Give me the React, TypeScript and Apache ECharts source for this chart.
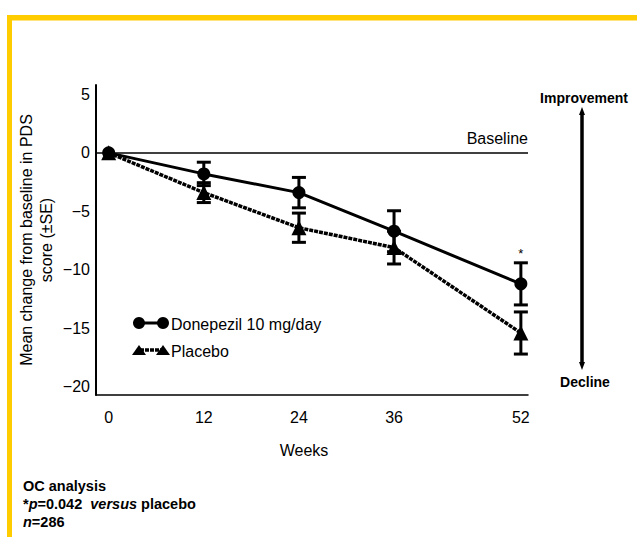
import React, { useEffect, useRef } from "react";
import * as echarts from "echarts";

const weeks = [0, 12, 24, 36, 52];
const donepezilMean = [0, -1.8, -3.4, -6.7, -11.2];
const donepezilSE = [0, 1.0, 1.3, 1.75, 1.8];
const placeboMean = [0, -3.4, -6.4, -8.1, -15.4];
const placeboSE = [0, 0.85, 1.25, 1.4, 1.8];
const donepezilSig = ["", "", "", "", "*"];
const xTicks = [0, 12, 24, 36, 52];
const yTicks = [-20, -15, -10, -5, 0, 5];

const FONT = "'Liberation Sans', Arial, Helvetica, sans-serif";

function errorBarSeries(name: string, mean: number[], se: number[], sig?: string[]) {
  return {
    type: "custom",
    name,
    z: 5,
    silent: true,
    data: weeks.map((w, i) => [w, mean[i], se[i]]),
    renderItem: (params: any, api: any) => {
      const x = api.value(0);
      const m = api.value(1);
      const s = api.value(2);
      if (!s) return { type: "group", children: [] };
      const top = api.coord([x, m + s]);
      const bot = api.coord([x, m - s]);
      const hw = 7;
      const st = { stroke: "#000", lineWidth: 3 };
      const children: any[] = [
        { type: "line", shape: { x1: top[0], y1: top[1], x2: bot[0], y2: bot[1] }, style: st },
        { type: "line", shape: { x1: top[0] - hw, y1: top[1], x2: top[0] + hw, y2: top[1] }, style: st },
        { type: "line", shape: { x1: bot[0] - hw, y1: bot[1], x2: bot[0] + hw, y2: bot[1] }, style: st },
      ];
      const mark = sig ? sig[params.dataIndex] : "";
      if (mark) {
        children.push({
          type: "text",
          x: top[0],
          y: top[1] - 9,
          style: { text: mark, fontSize: 13, fontFamily: FONT, fill: "#000", align: "center", verticalAlign: "middle" },
        });
      }
      return { type: "group", children };
    },
  };
}

export default function App() {
  const ref = useRef<HTMLDivElement>(null);
  useEffect(() => {
    if (!ref.current) return;
    const chart = echarts.init(ref.current, undefined, { renderer: "svg" });
    const italicRich = { i: { fontStyle: "italic", fontWeight: "bold", fontSize: 14.5, fontFamily: FONT, fill: "#000" } };
    const option: any = {
      animation: false,
      backgroundColor: "#fff",
      grid: { left: 96, right: 109, top: 85, bottom: 142 },
      xAxis: {
        type: "value",
        min: -1.6,
        max: 52.9,
        splitLine: { show: false },
        axisLine: { show: true, onZero: false, lineStyle: { color: "#000", width: 1.5 } },
        axisTick: { show: false },
        axisLabel: {
          customValues: xTicks,
          margin: 14,
          fontSize: 16,
          fontFamily: FONT,
          color: "#000",
        },
      },
      yAxis: {
        type: "value",
        min: -20.7,
        max: 5.8,
        splitLine: { show: false },
        axisLine: { show: true, onZero: false, lineStyle: { color: "#000", width: 2 } },
        axisTick: { show: false },
        axisLabel: {
          customValues: yTicks,
          margin: 6,
          fontSize: 16,
          fontFamily: FONT,
          color: "#000",
          formatter: (v: number) => String(v).replace("-", "\u2212"),
        },
      },
      series: [
        {
          type: "line",
          name: "Donepezil 10 mg/day",
          z: 3,
          data: weeks.map((w, i) => [w, donepezilMean[i]]),
          symbol: "circle",
          symbolSize: 13,
          itemStyle: { color: "#000" },
          lineStyle: { color: "#000", width: 3 },
          markLine: {
            silent: true,
            symbol: "none",
            label: { show: false },
            lineStyle: { color: "#000", width: 1.5, type: "solid" },
            data: [{ yAxis: 0 }],
          },
        },
        {
          type: "line",
          name: "Placebo",
          z: 4,
          data: weeks.map((w, i) => [w, placeboMean[i]]),
          symbol: "triangle",
          symbolSize: 15,
          itemStyle: { color: "#000" },
          lineStyle: { color: "#000", width: 3.5, type: [4, 1] },
        },
        errorBarSeries("Donepezil SE", donepezilMean, donepezilSE, donepezilSig),
        errorBarSeries("Placebo SE", placeboMean, placeboSE),
      ],
      graphic: [
        // yellow frame
        { type: "rect", shape: { x: 7, y: 15, width: 630, height: 5.5 }, style: { fill: "#FFCC00" }, silent: true },
        { type: "rect", shape: { x: 7, y: 15, width: 5, height: 522 }, style: { fill: "#FFCC00" }, silent: true },
        // y axis title
        {
          type: "text",
          x: 26,
          y: 240,
          rotation: Math.PI / 2,
          style: {
            text: "Mean change from baseline in PDS",
            fontSize: 16,
            fontFamily: FONT,
            fill: "#000",
            align: "center",
            verticalAlign: "middle",
          },
        },
        {
          type: "text",
          x: 46,
          y: 240,
          rotation: Math.PI / 2,
          style: { text: "score (\u00b1SE)", fontSize: 16, fontFamily: FONT, fill: "#000", align: "center", verticalAlign: "middle" },
        },
        // x axis title
        {
          type: "text",
          x: 304,
          y: 450,
          style: { text: "Weeks", fontSize: 16, fontFamily: FONT, fill: "#000", align: "center", verticalAlign: "middle" },
        },
        // baseline label
        {
          type: "text",
          x: 528,
          y: 138,
          style: { text: "Baseline", fontSize: 16, fontFamily: FONT, fill: "#000", align: "right", verticalAlign: "middle" },
        },
        // legend
        { type: "line", shape: { x1: 138, y1: 323, x2: 163, y2: 323 }, style: { stroke: "#000", lineWidth: 3 } },
        { type: "circle", shape: { cx: 139, cy: 323, r: 6 }, style: { fill: "#000" } },
        { type: "circle", shape: { cx: 163, cy: 323, r: 6 }, style: { fill: "#000" } },
        {
          type: "text",
          x: 171,
          y: 324,
          style: { text: "Donepezil 10 mg/day", fontSize: 16, fontFamily: FONT, fill: "#000", align: "left", verticalAlign: "middle" },
        },
        { type: "line", shape: { x1: 140, y1: 350, x2: 163, y2: 350 }, style: { stroke: "#000", lineWidth: 3.5, lineDash: [4, 1] } },
        { type: "polygon", shape: { points: [[132, 355], [139, 345], [146, 355]] }, style: { fill: "#000" } },
        { type: "polygon", shape: { points: [[156, 355], [163, 345], [170, 355]] }, style: { fill: "#000" } },
        {
          type: "text",
          x: 171,
          y: 351,
          style: { text: "Placebo", fontSize: 16, fontFamily: FONT, fill: "#000", align: "left", verticalAlign: "middle" },
        },
        // improvement / decline arrow
        { type: "line", shape: { x1: 582, y1: 112, x2: 582, y2: 365 }, style: { stroke: "#000", lineWidth: 3.5 } },
        { type: "polygon", shape: { points: [[579, 115], [582, 107], [585, 115]] }, style: { fill: "#000" } },
        { type: "polygon", shape: { points: [[579, 362], [582, 370], [585, 362]] }, style: { fill: "#000" } },
        {
          type: "text",
          x: 584,
          y: 98,
          style: { text: "Improvement", fontSize: 14, fontWeight: "bold", fontFamily: FONT, fill: "#000", align: "center", verticalAlign: "middle" },
        },
        {
          type: "text",
          x: 585,
          y: 382,
          style: { text: "Decline", fontSize: 14, fontWeight: "bold", fontFamily: FONT, fill: "#000", align: "center", verticalAlign: "middle" },
        },
        // footnotes
        {
          type: "text",
          x: 23,
          y: 486,
          style: { text: "OC analysis", fontSize: 14.5, fontWeight: "bold", fontFamily: FONT, fill: "#000", align: "left", verticalAlign: "middle" },
        },
        {
          type: "text",
          x: 23,
          y: 504,
          style: {
            text: "*{i|p}=0.042  {i|versus} placebo",
            fontSize: 14.5,
            fontWeight: "bold",
            fontFamily: FONT,
            fill: "#000",
            align: "left",
            verticalAlign: "middle",
            rich: italicRich,
          },
        },
        {
          type: "text",
          x: 23,
          y: 522,
          style: {
            text: "{i|n}=286",
            fontSize: 14.5,
            fontWeight: "bold",
            fontFamily: FONT,
            fill: "#000",
            align: "left",
            verticalAlign: "middle",
            rich: italicRich,
          },
        },
      ],
    };
    chart.setOption(option);
    return () => chart.dispose();
  }, []);
  return (
    <div
      ref={ref}
      style={{ position: "absolute", left: 0, top: 0, width: 637, height: 537 }}
    />
  );
}
